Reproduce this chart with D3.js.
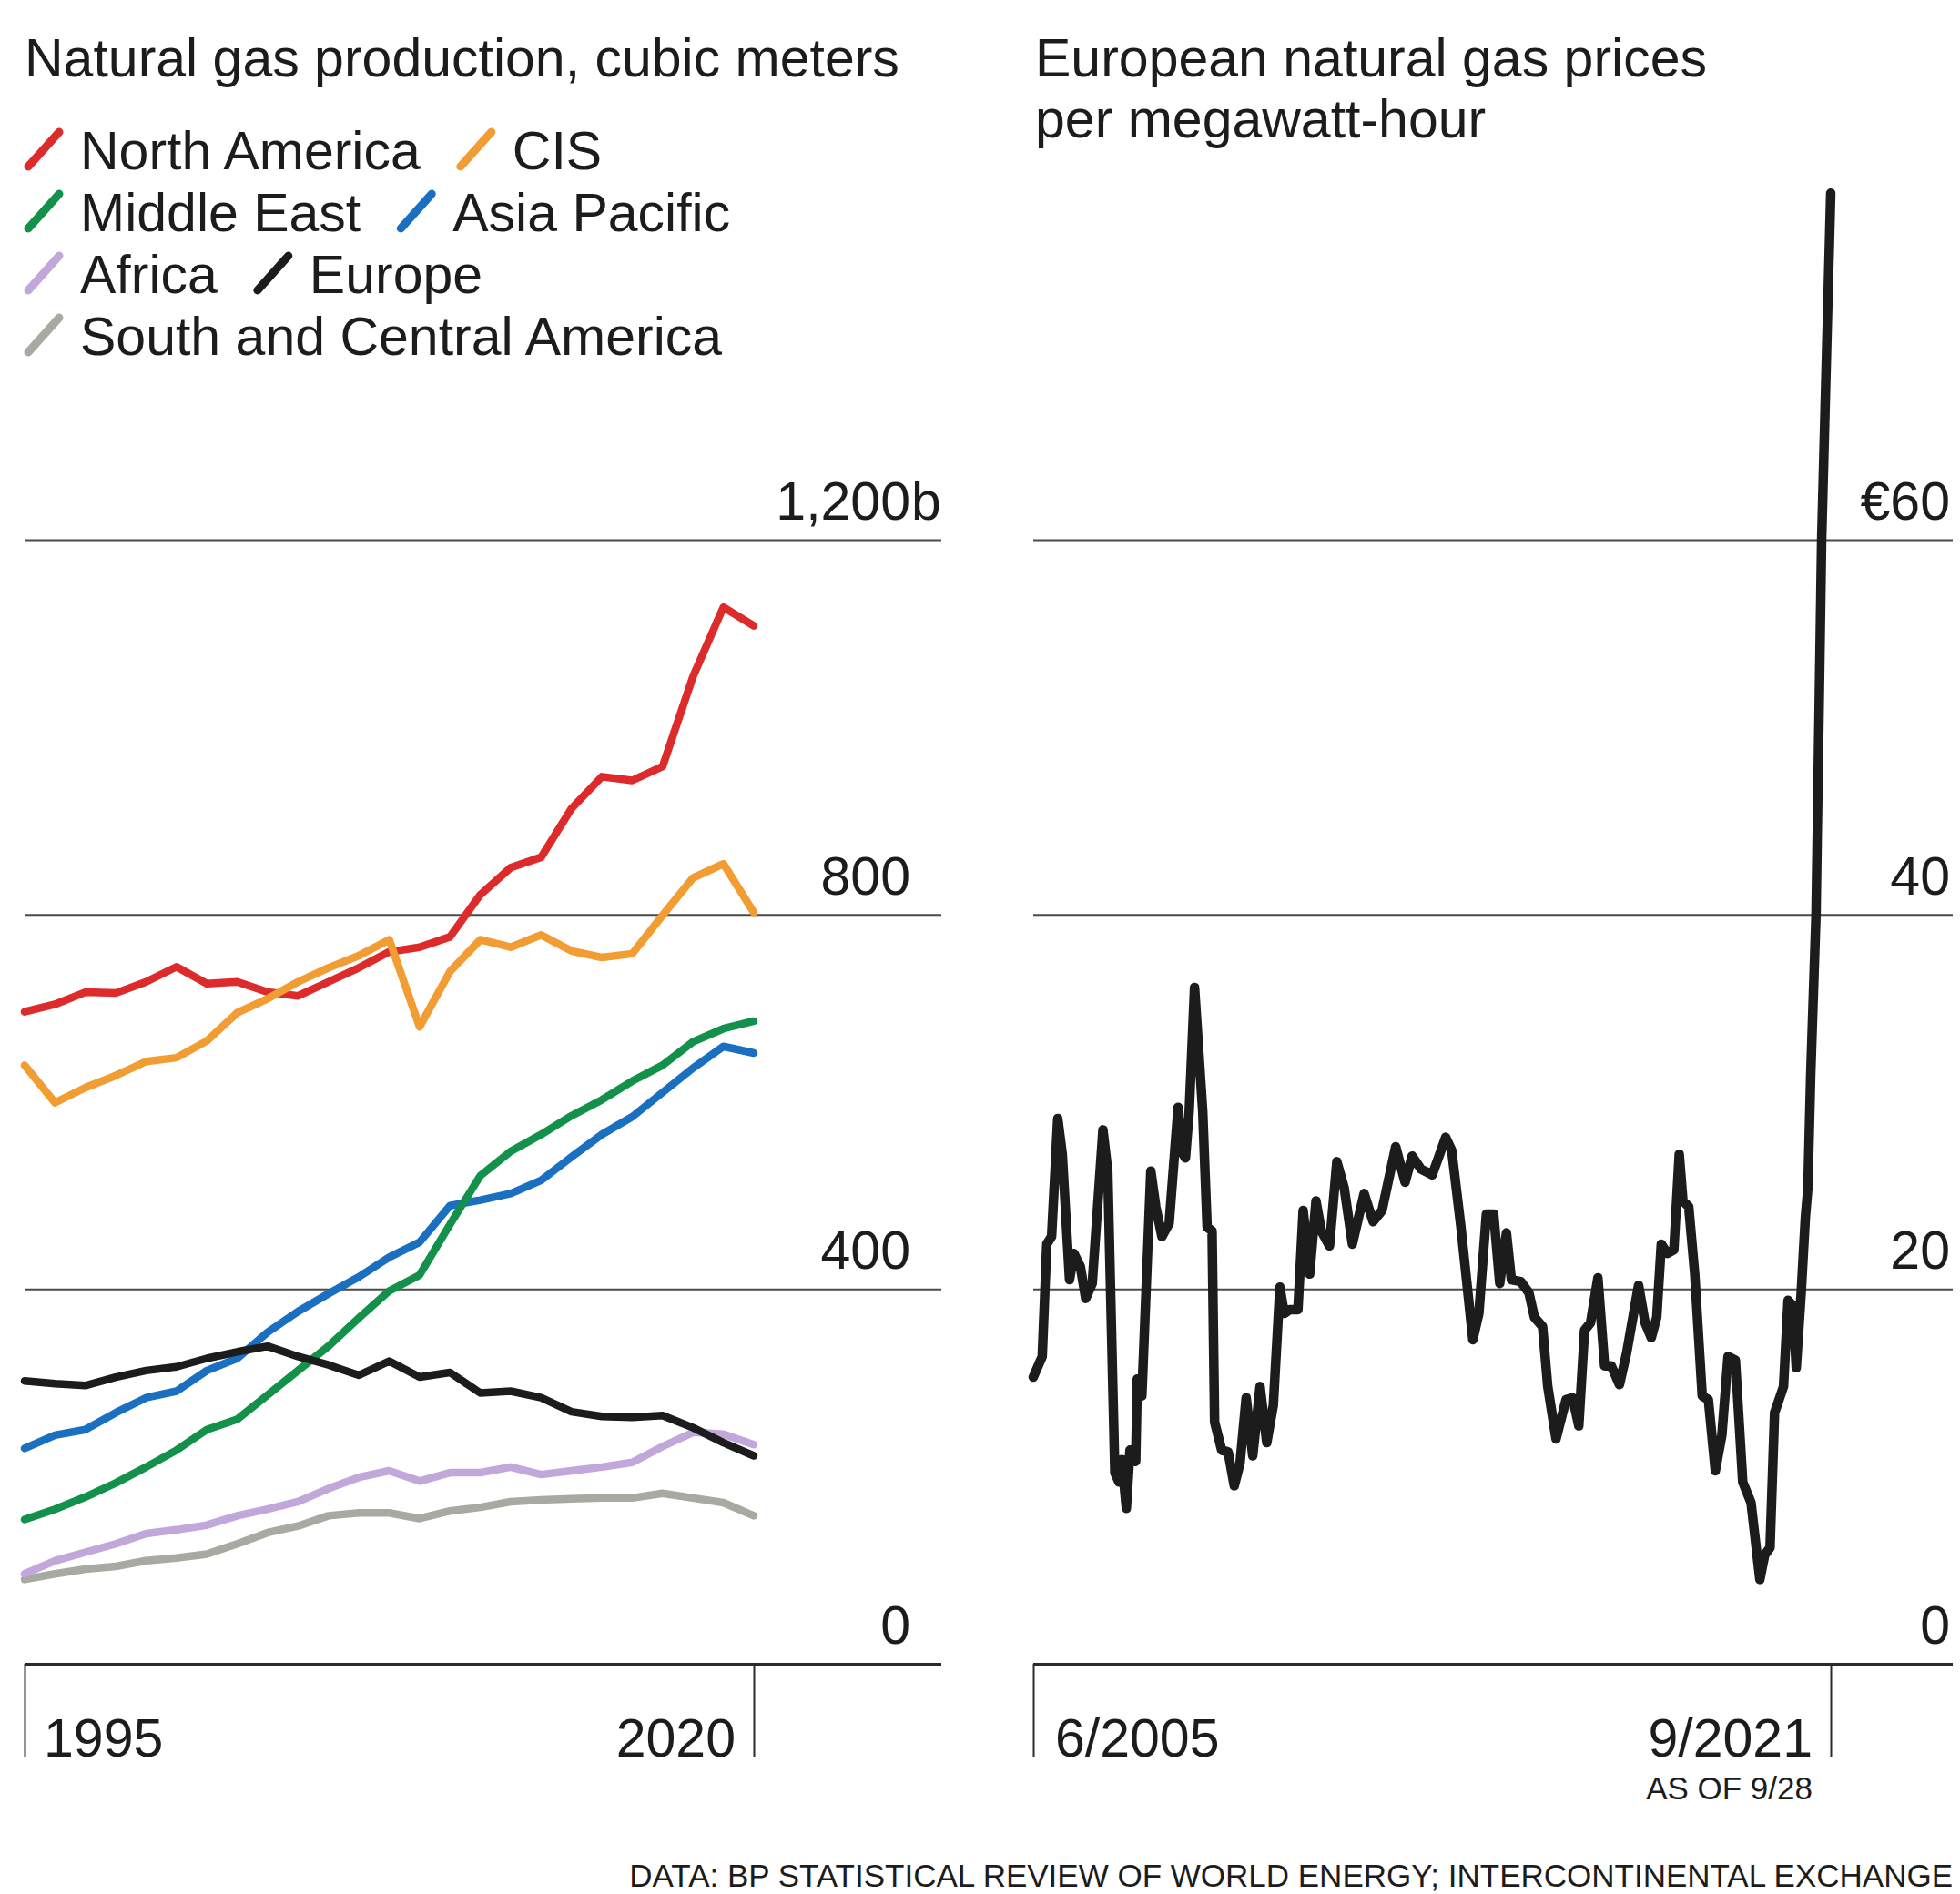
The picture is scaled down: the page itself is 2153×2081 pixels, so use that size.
<!DOCTYPE html>
<meta charset="utf-8">

<head>
    <title>Natural gas production and European prices</title>
    <script src="https://d3js.org/d3.v7.min.js"></script>
    <style>
        body {
            margin: 0;
            background-color: #fff;
        }

        svg text {
            font-family: "Liberation Sans", Arial, sans-serif;
            fill: #1c1c1c;
        }
    </style>
</head>

<body>
    <svg id="svg" width="2153" height="2081"></svg>

    <script>
        // production data, billion cubic meters, one value per year
        const years = [1996, 1997, 1998, 1999, 2000, 2001, 2002, 2003, 2004, 2005, 2006, 2007, 2008,
            2009, 2010, 2011, 2012, 2013, 2014, 2015, 2016, 2017, 2018, 2019, 2020]
        const northAmerica = [696, 704, 717, 716, 728, 744, 726, 728, 717, 713, 728, 743, 760, 765, 776, 821, 850, 861, 913, 947, 943, 958, 1054, 1128, 1108]
        const cis = [639, 599, 615, 628, 643, 647, 665, 695, 710, 728, 743, 756, 773, 680, 739, 773, 765, 778, 761, 754, 758, 799, 839, 854, 802]
        const middleEast = [154, 165, 178, 193, 210, 228, 250, 261, 287, 313, 339, 369, 398, 415, 469, 521, 547, 565, 585, 602, 622, 639, 664, 678, 686]
        const asiaPacific = [230, 244, 250, 268, 284, 291, 313, 326, 354, 376, 395, 413, 434, 450, 489, 495, 502, 516, 541, 565, 584, 610, 636, 659, 652]
        const europe = [302, 299, 297, 306, 313, 317, 326, 333, 339, 328, 319, 308, 323, 306, 311, 289, 291, 284, 269, 264, 263, 265, 252, 236, 222]
        const africa = [96, 110, 119, 128, 139, 143, 148, 158, 165, 173, 187, 199, 206, 195, 204, 204, 210, 202, 206, 210, 215, 232, 247, 245, 234]
        const southCentral = [90, 96, 101, 104, 110, 113, 117, 128, 140, 147, 158, 161, 161, 155, 163, 167, 173, 175, 176, 177, 177, 182, 177, 172, 158]

        const productionTicks = [0, 400, 800, 1200]
        const productionTickLabels = ['0', '400', '800', '1,200']
        const yearTickLabels = ['1995', '2020']

        // european gas price, euros per megawatt-hour
        const priceDates = ['2005-06-01', '2005-08-07', '2005-09-10', '2005-10-16', '2005-12-01', '2006-01-04', '2006-02-27',
            '2006-04-01', '2006-05-19', '2006-06-28', '2006-08-16', '2006-11-04', '2006-12-10', '2007-02-01', '2007-03-04',
            '2007-03-25', '2007-04-28', '2007-05-25', '2007-07-07', '2007-07-19', '2007-08-22', '2007-10-28', '2007-12-04',
            '2008-01-19', '2008-03-13', '2008-05-19', '2008-06-10', '2008-07-13', '2008-08-10', '2008-09-19', '2008-11-19',
            '2008-12-22', '2009-01-28', '2009-02-16', '2009-04-10', '2009-05-28', '2009-07-13', '2009-08-25', '2009-10-10',
            '2009-11-28', '2010-01-22', '2010-03-13', '2010-05-01', '2010-06-19', '2010-07-22', '2010-09-01', '2010-11-01',
            '2010-12-10', '2011-01-28', '2011-03-16', '2011-04-25', '2011-06-25', '2011-08-19', '2011-10-13', '2011-12-13',
            '2012-03-10', '2012-05-16', '2012-07-22', '2012-11-01', '2013-01-10', '2013-03-04', '2013-05-10', '2013-08-01',
            '2013-09-16', '2013-11-10', '2013-12-25', '2014-03-04', '2014-06-01', '2014-07-16', '2014-09-10', '2014-11-04',
            '2014-12-19', '2015-02-07', '2015-03-16', '2015-05-25', '2015-07-25', '2015-09-04', '2015-11-04', '2015-12-13',
            '2016-02-13', '2016-04-28', '2016-06-16', '2016-08-01', '2016-09-13', '2016-10-28', '2016-12-22', '2017-02-10',
            '2017-04-01', '2017-06-01', '2017-07-25', '2017-10-22', '2017-12-10', '2018-01-25', '2018-03-07', '2018-04-10',
            '2018-05-25', '2018-07-13', '2018-08-22', '2018-09-19', '2018-11-01', '2018-12-16', '2019-02-10', '2019-03-28',
            '2019-05-19', '2019-07-07', '2019-08-22', '2019-10-16', '2019-12-10', '2020-02-10', '2020-04-16', '2020-05-22',
            '2020-07-01', '2020-08-04', '2020-10-10', '2020-11-13', '2020-12-19', '2021-01-13', '2021-02-19', '2021-03-22',
            '2021-04-10', '2021-05-01', '2021-06-10', '2021-07-22', '2021-09-28']
        const priceValues = [15.3, 16.4, 22.4, 22.8, 29.1, 27.2, 20.5,
            21.9, 21.2, 19.5, 20.3, 28.5, 26.3, 10.2, 9.7,
            10.9, 8.3, 11.4, 10.8, 15.2, 14.3, 26.3, 24.4,
            22.8, 23.5, 29.7, 27.4, 27.0, 29.5, 36.1, 29.5,
            23.3, 23.1, 12.9, 11.4, 11.3, 9.5, 10.7, 14.2,
            11.1, 14.8, 11.8, 13.8, 20.1, 18.7, 18.9, 18.9,
            24.2, 20.8, 24.7, 23.1, 22.3, 26.8, 25.4, 22.4,
            25.1, 23.6, 24.2, 27.6, 25.7, 27.1, 26.4, 26.1,
            27.0, 28.1, 27.4, 23.3, 17.3, 18.7, 24.0, 24.0,
            20.3, 23.0, 20.5, 20.4, 19.8, 18.5, 18.0, 14.8,
            12.0, 14.1, 14.2, 12.7, 17.8, 18.2, 20.6, 15.9,
            15.9, 14.9, 16.6, 20.2, 18.2, 17.4, 18.5, 22.4,
            21.9, 22.1, 27.2, 24.7, 24.4, 20.8, 14.3, 14.1,
            10.3, 12.2, 16.4, 16.2, 9.7, 8.6, 4.5, 5.8,
            6.2, 13.4, 14.8, 19.4, 19.1, 15.8, 19.8, 23.8,
            25.4, 31.4, 40, 60, 78.5]

        const priceTicks = [0, 20, 40, 60]
        const priceTickLabels = ['0', '20', '40', '€60']
        const dateTickLabels = ['6/2005', '9/2021']

        // regions in legend order, then drawing order below
        const regions = [
            { name: 'North America', color: '#dd2a2b', values: northAmerica },
            { name: 'CIS', color: '#f29d33', values: cis },
            { name: 'Middle East', color: '#13914a', values: middleEast },
            { name: 'Asia Pacific', color: '#1a6fc1', values: asiaPacific },
            { name: 'Africa', color: '#c2a7da', values: africa },
            { name: 'Europe', color: '#1c1c1c', values: europe },
            { name: 'South and Central America', color: '#a7aaa1', values: southCentral }
        ]
        const legendRows = [['North America', 'CIS'], ['Middle East', 'Asia Pacific'], ['Africa', 'Europe'], ['South and Central America']]
        const drawOrder = ['South and Central America', 'Africa', 'Asia Pacific', 'Middle East', 'Europe', 'North America', 'CIS']

        const svg = d3.select('#svg')
        const fontSize = 59
        const smallSize = 35

        // scales
        const xL = d3.scaleLinear().domain([years[0], years[years.length - 1]]).range([27, 828])
        const yL = d3.scaleLinear().domain([0, 1200]).range([1828, 593])

        const parseDate = d3.timeParse('%Y-%m-%d')
        const prices = priceDates.map((d, i) => ({ date: parseDate(d), value: priceValues[i] }))
        const xR = d3.scaleTime().domain([prices[0].date, prices[prices.length - 1].date]).range([1135, 2011])
        const yR = d3.scaleLinear().domain([0, 60]).range([1828, 593])

        // titles
        svg.append('text').attr('x', 27).attr('y', 84).style('font-size', fontSize + 'px')
            .text('Natural gas production, cubic meters')
        svg.append('text').attr('x', 1137).attr('y', 84).style('font-size', fontSize + 'px')
            .text('European natural gas prices')
        svg.append('text').attr('x', 1137).attr('y', 151).style('font-size', fontSize + 'px')
            .text('per megawatt-hour')

        // legend, items flow left to right in each row
        legendRows.forEach((row, r) => {
            let x = 31
            const baseline = 186 + r * 68
            row.forEach((name) => {
                const region = regions.find((d) => d.name === name)
                svg.append('line')
                    .attr('x1', x).attr('y1', baseline - 3)
                    .attr('x2', x + 34).attr('y2', baseline - 41)
                    .attr('stroke', region.color)
                    .attr('stroke-width', 9)
                    .attr('stroke-linecap', 'round')
                const label = svg.append('text')
                    .attr('x', x + 57).attr('y', baseline)
                    .style('font-size', fontSize + 'px')
                    .text(name)
                x = x + 57 + label.node().getComputedTextLength() + 44
            })
        })

        // gridlines from the axes
        function grid(g, scale, ticks, width) {
            g.call(d3.axisLeft(scale).tickValues(ticks).tickSize(width).tickFormat(''))
            g.select('.domain').remove()
            g.selectAll('.tick line')
                .attr('stroke', (d) => d === 0 ? '#2a2a2a' : '#4a4a4a')
                .attr('stroke-width', (d) => d === 0 ? 3 : 2)
        }

        svg.append('g').attr('transform', 'translate(1034,0)')
            .call(grid, yL, productionTicks, 1007)
        svg.append('g').attr('transform', 'translate(2145,0)')
            .call(grid, yR, priceTicks, 1010)

        // bottom tick marks
        function bottomTicks(g, scale, ticks) {
            g.call(d3.axisBottom(scale).tickValues(ticks).tickSize(102).tickFormat(''))
            g.select('.domain').remove()
            g.selectAll('.tick line').attr('stroke', '#2a2a2a').attr('stroke-width', 2)
        }

        svg.append('g').attr('transform', 'translate(0,1828)')
            .call(bottomTicks, xL, [years[0], years[years.length - 1]])
        svg.append('g').attr('transform', 'translate(0,1828)')
            .call(bottomTicks, xR, xR.domain())

        // y tick labels
        svg.selectAll('.prodLabel')
            .data(productionTicks)
            .enter()
            .append('text')
            .attr('class', 'prodLabel')
            .attr('x', 1000)
            .attr('y', (d) => yL(d) - 22)
            .attr('text-anchor', 'end')
            .style('font-size', fontSize + 'px')
            .text((d, i) => productionTickLabels[i])
        svg.append('text')
            .attr('x', 1001).attr('y', yL(1200) - 22)
            .style('font-size', fontSize + 'px')
            .text('b')

        svg.selectAll('.priceLabel')
            .data(priceTicks)
            .enter()
            .append('text')
            .attr('class', 'priceLabel')
            .attr('x', 2142)
            .attr('y', (d) => yR(d) - 22)
            .attr('text-anchor', 'end')
            .style('font-size', fontSize + 'px')
            .text((d, i) => priceTickLabels[i])

        // x tick labels
        svg.append('text').attr('x', xL(years[0]) + 21).attr('y', 1930)
            .style('font-size', fontSize + 'px').text(yearTickLabels[0])
        svg.append('text').attr('x', xL(years[years.length - 1]) - 20).attr('y', 1930)
            .attr('text-anchor', 'end').style('font-size', fontSize + 'px').text(yearTickLabels[1])

        svg.append('text').attr('x', xR.range()[0] + 24).attr('y', 1930)
            .style('font-size', fontSize + 'px').text(dateTickLabels[0])
        svg.append('text').attr('x', xR.range()[1] - 20).attr('y', 1930)
            .attr('text-anchor', 'end').style('font-size', fontSize + 'px').text(dateTickLabels[1])
        svg.append('text').attr('x', xR.range()[1] - 20).attr('y', 1977)
            .attr('text-anchor', 'end').style('font-size', smallSize + 'px').text('AS OF 9/28')

        // production lines
        const prodLine = d3.line()
            .x((d, i) => xL(years[i]))
            .y((d) => yL(d))

        drawOrder.forEach((name) => {
            const region = regions.find((d) => d.name === name)
            svg.append('path')
                .datum(region.values)
                .attr('d', prodLine)
                .attr('fill', 'none')
                .attr('stroke', region.color)
                .attr('stroke-width', 8.5)
                .attr('stroke-linejoin', 'round')
                .attr('stroke-linecap', 'round')
        })

        // price line
        const priceLine = d3.line()
            .x((d) => xR(d.date))
            .y((d) => yR(d.value))

        svg.append('path')
            .datum(prices)
            .attr('d', priceLine)
            .attr('fill', 'none')
            .attr('stroke', '#1c1c1c')
            .attr('stroke-width', 10.5)
            .attr('stroke-linejoin', 'round')
            .attr('stroke-linecap', 'round')

        // source
        svg.append('text')
            .attr('x', 2145).attr('y', 2073)
            .attr('text-anchor', 'end')
            .style('font-size', smallSize + 'px')
            .text('DATA: BP STATISTICAL REVIEW OF WORLD ENERGY; INTERCONTINENTAL EXCHANGE')
    </script>
</body>

</html>
